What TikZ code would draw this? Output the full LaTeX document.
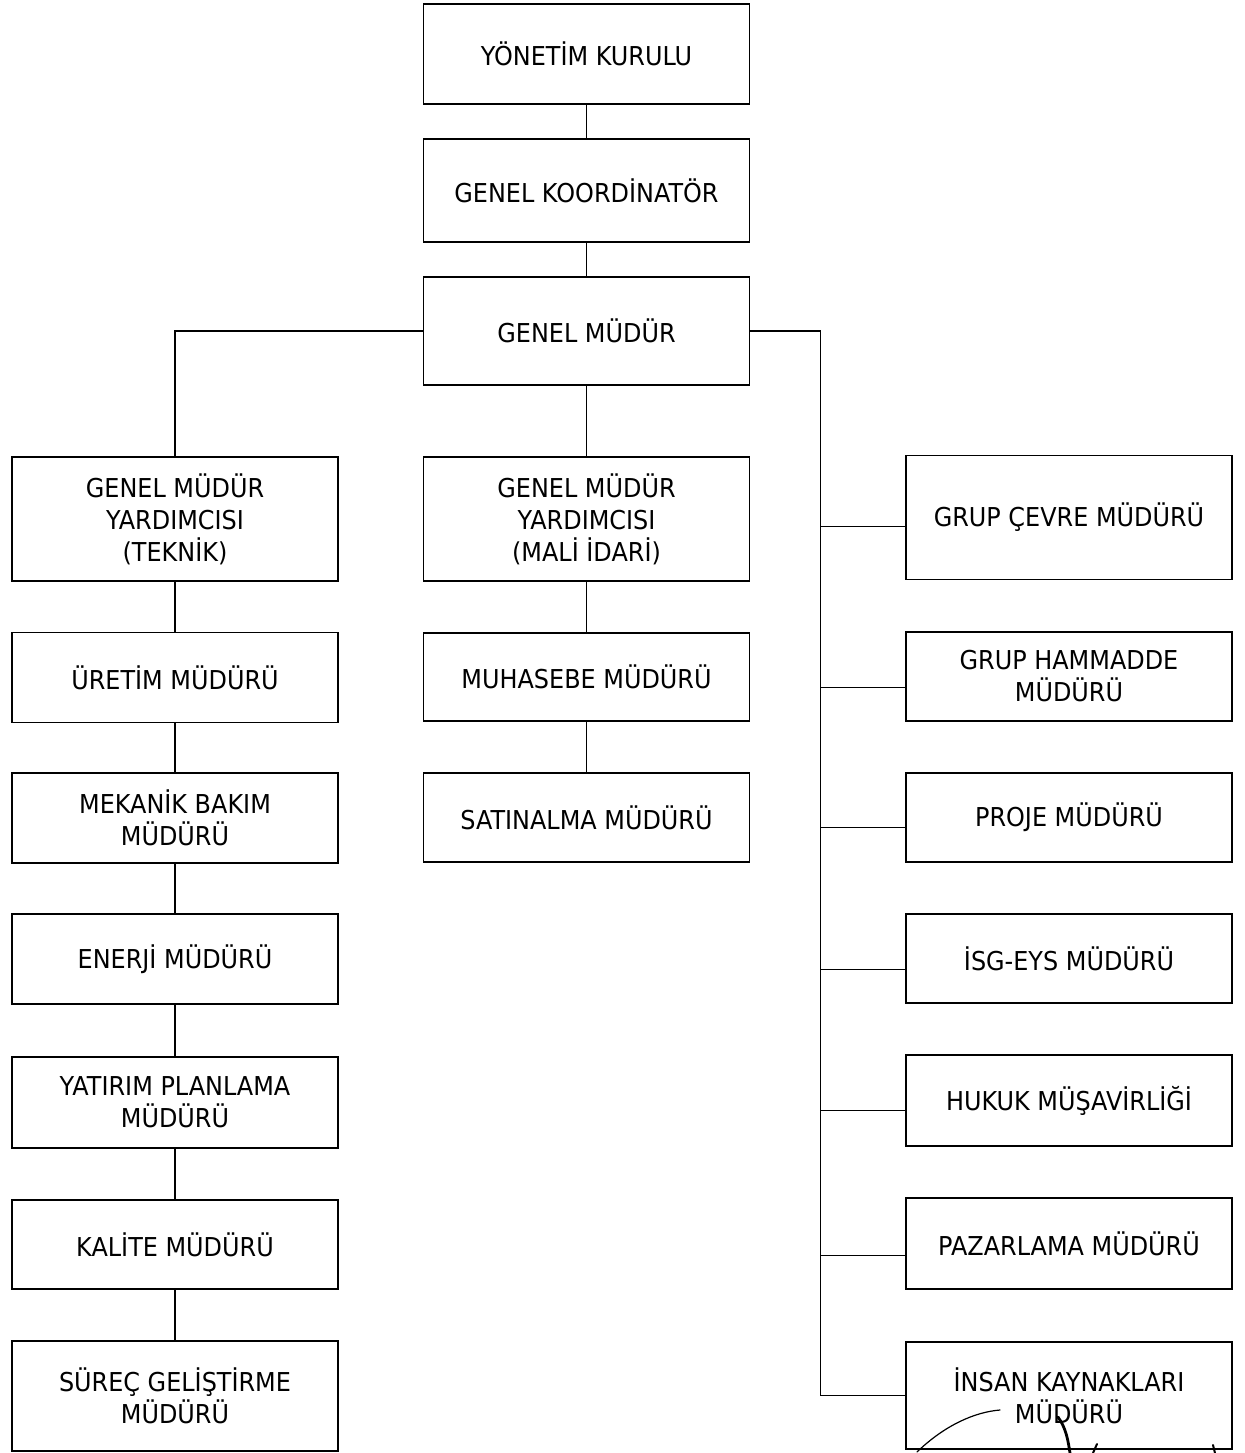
\documentclass[tikz,border=0pt]{standalone}
\usepackage{fontspec}
\setmainfont{DejaVu Sans}[FakeStretch=0.92]

\tikzset{
  box/.style={draw, line width=0.9pt, minimum width=163pt, align=center,
    inner sep=2pt, font=\fontsize{13}{16}\selectfont},
  link/.style={line width=0.8pt},
  sign/.style={line width=1pt, line cap=round}
}

\begin{document}
\begin{tikzpicture}[x=0.5pt,y=-0.5pt]
  \useasboundingbox (0,0) rectangle (1245,1453);
  % top of the chart
  \node[box,minimum height=50pt] (yk) at (586.5,54) {YÖNETİM KURULU};
  \node[box,minimum height=51.5pt] (gk) at (586.5,190.5) {GENEL KOORDİNATÖR};
  \node[box,minimum height=54pt] (gm) at (586.5,331) {GENEL MÜDÜR};
  % left column
  \node[box,minimum height=62pt] (gmyt) at (175,519) {GENEL MÜDÜR\\YARDIMCISI\\(TEKNİK)};
  \node[box,minimum height=45pt] (uretim) at (175,677.5) {ÜRETİM MÜDÜRÜ};
  \node[box,minimum height=45pt] (mekanik) at (175,818) {MEKANİK BAKIM\\MÜDÜRÜ};
  \node[box,minimum height=45pt] (enerji) at (175,959) {ENERJİ MÜDÜRÜ};
  \node[box,minimum height=45.5pt] (yatirim) at (175,1102.5) {YATIRIM PLANLAMA\\MÜDÜRÜ};
  \node[box,minimum height=44.5pt] (kalite) at (175,1244.5) {KALİTE MÜDÜRÜ};
  \node[box,minimum height=55pt] (surec) at (175,1396) {SÜREÇ GELİŞTİRME\\MÜDÜRÜ};
  % middle column
  \node[box,minimum height=62pt] (gmym) at (586.5,519) {GENEL MÜDÜR\\YARDIMCISI\\(MALİ İDARİ)};
  \node[box,minimum height=44pt] (muhasebe) at (586.5,677) {MUHASEBE MÜDÜRÜ};
  \node[box,minimum height=44.5pt] (satinalma) at (586.5,817.5) {SATINALMA MÜDÜRÜ};
  % right column
  \node[box,minimum height=62pt] (cevre) at (1069,517.5) {GRUP ÇEVRE MÜDÜRÜ};
  \node[box,minimum height=44.5pt] (hammadde) at (1069,676.5) {GRUP HAMMADDE\\MÜDÜRÜ};
  \node[box,minimum height=44.5pt] (proje) at (1069,817.5) {PROJE MÜDÜRÜ};
  \node[box,minimum height=44.5pt] (isg) at (1069,958.5) {İSG-EYS MÜDÜRÜ};
  \node[box,minimum height=45.5pt] (hukuk) at (1069,1100.5) {HUKUK MÜŞAVİRLİĞİ};
  \node[box,minimum height=45.5pt] (pazarlama) at (1069,1243.5) {PAZARLAMA MÜDÜRÜ};
  \node[box,minimum height=53.5pt] (ik) at (1069,1395.5) {İNSAN KAYNAKLARI\\MÜDÜRÜ};

  % connectors
  \draw[link] (yk) -- (gk);
  \draw[link] (gk) -- (gm);
  \draw[link] (gm) -- (gmym);
  \draw[link] (gm.west) -| (gmyt.north);
  \foreach \a/\b in {gmyt/uretim, uretim/mekanik, mekanik/enerji,
      enerji/yatirim, yatirim/kalite, kalite/surec, gmym/muhasebe, muhasebe/satinalma}
    \draw[link] (\a) -- (\b);
  \draw[link] (gm.east) -- ++(70,0) coordinate (bus) |- (ik.west);
  \foreach \n/\d in {cevre/-4.5, hammadde/-5.5, proje/-5, isg/-5.5,
      hukuk/-5, pazarlama/-6}
    \draw[link] ([yshift=\d pt]\n.west) -- ([yshift=\d pt]\n.west -| bus);

  % signature, cut off at the bottom
  \draw[sign, line width=0.6pt] (917,1452) .. controls (945,1425) and (975,1412) .. (1000,1410);
  \draw[sign, line width=1.4pt] (1058,1417) .. controls (1066,1428) and (1068,1440) .. (1070,1453);
  \draw[sign] (1097,1444) -- (1093,1453);
  \draw[sign] (1213,1445) -- (1215,1453);
\end{tikzpicture}
\end{document}
